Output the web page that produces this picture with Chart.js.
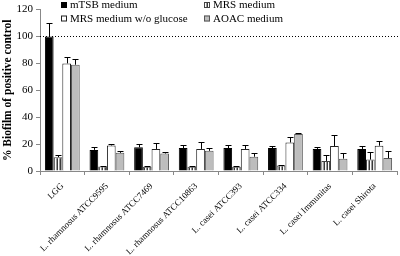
<!DOCTYPE html>
<html>
<head>
<meta charset="utf-8">
<script src="https://cdn.jsdelivr.net/npm/chart.js@4"></script>
<style>
  html, body { margin: 0; padding: 0; background: #fff; }
  #wrap { width: 400px; height: 256px; }
</style>
</head>
<body>
<div id="wrap"><canvas id="biofilmChart" width="400" height="256"></canvas></div>
<script>
// strains on the x axis
const strains = [
  "LGG",
  "L. rhamnosus ATCC9595",
  "L. rhamnosus ATCC7469",
  "L. rhamnosus ATCC10863",
  "L. casei ATCC393",
  "L. casei ATCC334",
  "L. casei Immunitas",
  "L. casei Shirota"
];

// % biofilm of positive control, per medium
const mtsbValues   = [100, 15.7, 17.6, 17.1, 17.1, 17.1, 16.4, 16.4];
const mrsValues    = [10.3, 3.4, 3.1, 3.1, 3.1, 4.0, 7.5, 8.5];
const mrsNoGluValues = [80, 19, 16.4, 16.4, 16.4, 21.2, 18.6, 18.8];
const aoacValues   = [79, 13.5, 13.0, 15, 10.6, 27.5, 9.2, 9.6];

// top of each error bar
const mtsbErr   = [110, 18, 20, 19, 19.3, 18.8, 18.1, 18.3];
const mrsErr    = [11.8, 4, 3.6, 3.6, 4, 4.5, 12, 14.2];
const mrsNoGluErr = [85, 19.8, 20.7, 21.9, 19, 25.3, 26.8, 22.2];
const aoacErr   = [83, 15, 13.8, 17.4, 13.2, 28.2, 13.2, 14.7];

const yTicks = [0, 20, 40, 60, 80, 100, 120];
const refLine = 100;

const serif = "'Liberation Serif', 'Times New Roman', serif";

// vertical stripes for the MRS medium bars
function makeStripes() {
  const c = document.createElement("canvas");
  c.width = 3; c.height = 1;
  const g = c.getContext("2d");
  g.fillStyle = "#3a3a3a"; g.fillRect(0, 0, 1, 1);
  g.fillStyle = "#ffffff"; g.fillRect(1, 0, 1, 1);
  g.fillStyle = "#9a9a9a"; g.fillRect(2, 0, 1, 1);
  return g.createPattern(c, "repeat");
}

const errTops = [mtsbErr, mrsErr, mrsNoGluErr, aoacErr];

const errorBars = {
  id: "errorBars",
  afterDatasetsDraw(chart) {
    const ctx = chart.ctx;
    const y = chart.scales.y;
    ctx.save();
    ctx.strokeStyle = "#000";
    ctx.lineWidth = 1;
    chart.data.datasets.forEach((ds, i) => {
      const meta = chart.getDatasetMeta(i);
      meta.data.forEach((bar, j) => {
        const top = Math.round(y.getPixelForValue(errTops[i][j])) + 0.5;
        const x = Math.round(bar.x) + 0.5;
        ctx.beginPath();
        ctx.moveTo(x, bar.y);
        ctx.lineTo(x, top);
        ctx.moveTo(x - 3, top);
        ctx.lineTo(x + 3, top);
        ctx.stroke();
      });
    });
    ctx.restore();
  }
};

// dotted line at 100 %
const refLinePlugin = {
  id: "refLine",
  afterDatasetsDraw(chart) {
    const ctx = chart.ctx;
    const area = chart.chartArea;
    const yy = Math.round(chart.scales.y.getPixelForValue(refLine)) + 0.5;
    ctx.save();
    ctx.strokeStyle = "#000";
    ctx.lineWidth = 1;
    ctx.setLineDash([1, 2]);
    ctx.beginPath();
    ctx.moveTo(area.left, yy);
    ctx.lineTo(400, yy);
    ctx.stroke();
    ctx.restore();
  }
};

// legend in two columns, sitting over the top of the plot
const legendBox = {
  id: "legendBox",
  afterDraw(chart) {
    const ctx = chart.ctx;
    const spots = [[61, 5], [204, 5], [61, 18.5], [204, 18.5]];
    ctx.save();
    ctx.font = "11px " + serif;
    ctx.textBaseline = "middle";
    chart.data.datasets.forEach((ds, i) => {
      const [x, yy] = spots[i];
      ctx.fillStyle = ds.backgroundColor;
      ctx.fillRect(x, yy - 3, 6, 6);
      ctx.strokeStyle = ds.borderColor;
      ctx.lineWidth = 1;
      ctx.strokeRect(x + 0.5, yy - 2.5, 5, 5);
      ctx.fillStyle = "#000";
      ctx.fillText(ds.label, x + 9, yy + 0.5);
    });
    ctx.restore();
  }
};

const biofilmData = {
  labels: strains,
  datasets: [
    { label: "mTSB medium", data: mtsbValues, backgroundColor: "#000", borderColor: "#000", borderWidth: 1 },
    { label: "MRS medium", data: mrsValues, backgroundColor: makeStripes(), borderColor: "#444", borderWidth: 1 },
    { label: "MRS medium w/o glucose", data: mrsNoGluValues, backgroundColor: "#fff", borderColor: "#222", borderWidth: 1 },
    { label: "AOAC medium", data: aoacValues, backgroundColor: "#bdbdbd", borderColor: "#555", borderWidth: 1 }
  ]
};

const biofilmConfig = {
  type: "bar",
  data: biofilmData,
  options: {
    responsive: false,
    animation: false,
    events: [],
    layout: { padding: { top: 5, right: 3, left: 0, bottom: 0 } },
    datasets: {
      bar: { categoryPercentage: 0.78, barPercentage: 1 }
    },
    scales: {
      x: {
        grid: { display: true, drawOnChartArea: false, offset: true, tickLength: 4, color: "#888" },
        border: { color: "#888" },
        ticks: {
          minRotation: 45, maxRotation: 45, autoSkip: false, padding: 6,
          color: "#000", font: { family: serif, size: 9 }
        },
        afterFit(scale) { scale.height = 85; }
      },
      y: {
        min: 0, max: 120,
        afterBuildTicks(scale) { scale.ticks = yTicks.map(v => ({ value: v })); },
        grid: { display: true, drawOnChartArea: false, tickLength: 4, color: "#888" },
        border: { color: "#888" },
        ticks: { color: "#000", padding: 3, font: { family: serif, size: 11 } },
        title: {
          display: true,
          text: "% Biofilm of positive control",
          color: "#000",
          padding: { top: 1, bottom: 0 },
          font: { family: serif, size: 11.5, weight: "bold" }
        },
        afterFit(scale) { scale.width = 40; }
      }
    },
    plugins: {
      legend: { display: false },
      tooltip: { enabled: false }
    }
  },
  plugins: [errorBars, refLinePlugin, legendBox]
};

const biofilmCtx = document.getElementById("biofilmChart").getContext("2d");
const biofilmChart = new Chart(biofilmCtx, biofilmConfig);
</script>
</body>
</html>
